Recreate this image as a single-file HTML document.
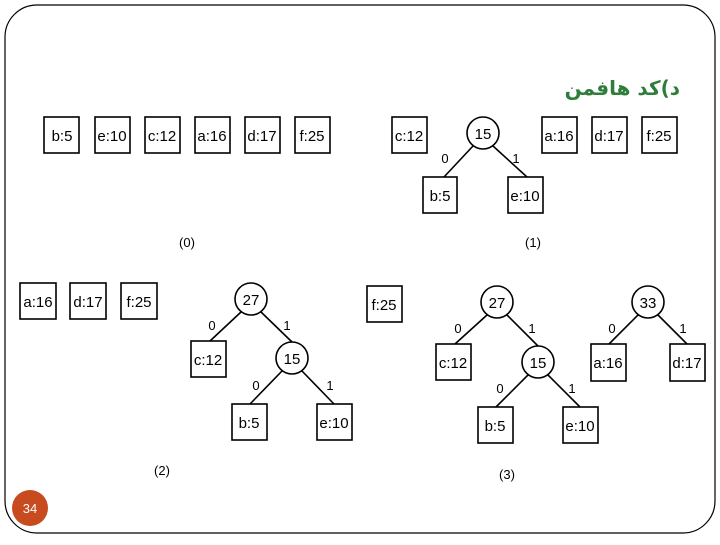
<!DOCTYPE html><html><head><meta charset="utf-8"><style>
body{margin:0;background:#fff}
svg text{font-family:"Liberation Sans",Arial,sans-serif}
</style></head><body>
<svg width="720" height="540" viewBox="0 0 720 540" xmlns="http://www.w3.org/2000/svg">
<rect x="5" y="5" width="710" height="528" rx="32" fill="#fff" stroke="#000" stroke-width="1.2"/>
<text x="680" y="95" text-anchor="end" font-size="20" font-weight="bold" fill="#2e7d3a" style="font-family:'DejaVu Sans',sans-serif">د)کد هافمن</text>
<g fill="#fff" stroke="#000" stroke-width="1.6">
<rect x="44" y="117" width="35" height="36"/><rect x="95" y="117" width="35" height="36"/><rect x="145" y="117" width="35" height="36"/><rect x="195" y="117" width="35" height="36"/><rect x="245" y="117" width="35" height="36"/><rect x="295" y="117" width="35" height="36"/>
<rect x="392" y="117" width="35" height="36"/><rect x="542" y="117" width="35" height="36"/><rect x="592" y="117" width="35" height="36"/><rect x="642" y="117" width="35" height="36"/>
<rect x="423" y="177" width="34" height="36"/><rect x="508" y="177" width="35" height="36"/>
<rect x="20" y="283" width="36" height="36"/><rect x="70" y="283" width="36" height="36"/><rect x="121" y="283" width="36" height="36"/>
<rect x="191" y="341" width="35" height="36"/><rect x="232" y="404" width="35" height="36"/><rect x="317" y="404" width="35" height="36"/>
<rect x="367" y="286" width="35" height="36"/>
<rect x="436" y="344" width="35" height="36"/><rect x="478" y="407" width="35" height="36"/><rect x="563" y="407" width="35" height="36"/><rect x="591" y="344" width="35" height="37"/><rect x="670" y="344" width="35" height="37"/>
</g>
<g stroke="#000" stroke-width="1.6" fill="none">
<line x1="473" y1="146" x2="444" y2="177"/><line x1="493" y1="146" x2="527" y2="177"/>
<line x1="241" y1="312" x2="210" y2="341"/><line x1="261" y1="312" x2="292" y2="342"/>
<line x1="282" y1="371" x2="250" y2="404"/><line x1="302" y1="371" x2="334" y2="404"/>
<line x1="487" y1="315" x2="455" y2="344"/><line x1="507" y1="315" x2="538" y2="346"/>
<line x1="528" y1="375" x2="496" y2="407"/><line x1="548" y1="375" x2="580" y2="407"/>
<line x1="638" y1="315" x2="609" y2="344"/><line x1="658" y1="315" x2="687" y2="344"/>
</g>
<g fill="#fff" stroke="#000" stroke-width="1.6">
<circle cx="483" cy="133" r="16"/><circle cx="251" cy="299" r="16"/><circle cx="292" cy="358" r="16"/>
<circle cx="497" cy="302" r="16"/><circle cx="538" cy="362" r="16"/><circle cx="648" cy="302" r="16"/>
</g>
<g font-size="15" text-anchor="middle" fill="#000">
<text x="62" y="141">b:5</text><text x="112" y="141">e:10</text><text x="162" y="141">c:12</text><text x="212" y="141">a:16</text><text x="262" y="141">d:17</text><text x="312" y="141">f:25</text>
<text x="409" y="141">c:12</text><text x="483" y="139">15</text><text x="559" y="141">a:16</text><text x="609" y="141">d:17</text><text x="659" y="141">f:25</text>
<text x="440" y="201">b:5</text><text x="525" y="201">e:10</text>
<text x="445" y="163" font-size="13">0</text><text x="516" y="163" font-size="13">1</text>
<text x="187" y="247" font-size="13">(0)</text><text x="533" y="247" font-size="13">(1)</text>
<text x="38" y="307">a:16</text><text x="88" y="307">d:17</text><text x="139" y="307">f:25</text>
<text x="251" y="305">27</text><text x="292" y="364">15</text>
<text x="208" y="365">c:12</text><text x="249" y="428">b:5</text><text x="334" y="428">e:10</text>
<text x="212" y="330" font-size="13">0</text><text x="287" y="330" font-size="13">1</text><text x="256" y="390" font-size="13">0</text><text x="330" y="390" font-size="13">1</text>
<text x="162" y="475" font-size="13">(2)</text>
<text x="384" y="310">f:25</text>
<text x="497" y="308">27</text><text x="538" y="368">15</text><text x="648" y="308">33</text>
<text x="453" y="368">c:12</text><text x="495" y="431">b:5</text><text x="580" y="431">e:10</text><text x="608" y="368">a:16</text><text x="687" y="368">d:17</text>
<text x="458" y="333" font-size="13">0</text><text x="532" y="333" font-size="13">1</text><text x="612" y="333" font-size="13">0</text><text x="683" y="333" font-size="13">1</text>
<text x="500" y="393" font-size="13">0</text><text x="572" y="393" font-size="13">1</text>
<text x="507" y="479" font-size="13">(3)</text>
</g>
<circle cx="30" cy="508" r="18" fill="#c84a1f"/>
<text x="30" y="513" font-size="13" text-anchor="middle" fill="#fff">34</text>
</svg>
</body></html>
